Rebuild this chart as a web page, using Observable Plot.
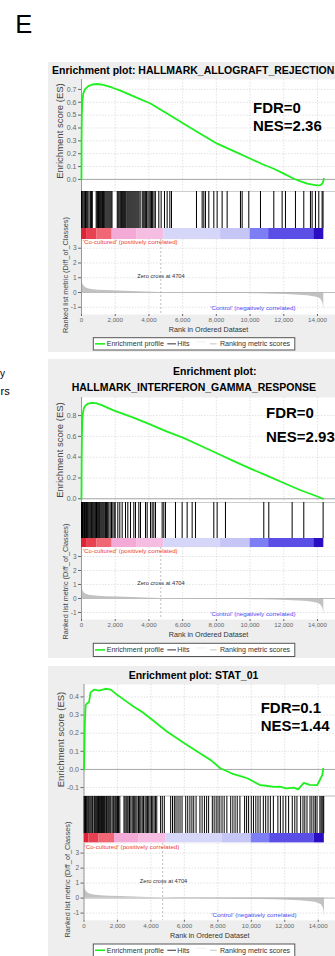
<!DOCTYPE html>
<html><head><meta charset="utf-8">
<script src="https://cdn.jsdelivr.net/npm/d3@7"></script>
<script src="https://cdn.jsdelivr.net/npm/@observablehq/plot@0.6"></script>
<style>
body{margin:0;background:#fff;}
#root{position:relative;width:335px;height:956px;overflow:hidden;font-family:"Liberation Sans",Arial,Helvetica,sans-serif;}
.panel{position:absolute;left:48px;width:287px;background:#eeeeee;}
#overlay{position:absolute;left:0;top:0;pointer-events:none;}
</style>
</head><body><div id="root"></div>
<script>
// ---------------- DATA ----------------
const xTicks = [0, 2000, 4000, 6000, 8000, 10000, 12000, 14000];
const rankTicks = [-1, 0, 1, 2, 3];
const esTicks1 = [0, 0.1, 0.2, 0.3, 0.4, 0.5, 0.6, 0.7];
const esTicks2 = [0, 0.2, 0.4, 0.6, 0.8];
const esTicks3 = [-0.1, 0, 0.1, 0.2, 0.3, 0.4];

const titles = ["Enrichment plot: HALLMARK_ALLOGRAFT_REJECTION", "Enrichment plot:", "HALLMARK_INTERFERON_GAMMA_RESPONSE", "Enrichment plot: STAT_01"];
const fdrText = ["FDR=0", "FDR=0", "FDR=0.1"];
const nesText = ["NES=2.36", "NES=2.93", "NES=1.44"];
const legendLabels = ["Enrichment profile", "Hits", "Ranking metric scores"];
const esAxisLabel = "Enrichment score (ES)";
const rankAxisLabel = "Ranked list metric (Diff_of_Classes)";
const xAxisLabel = "Rank in Ordered Dataset";
const posLabel = "'Co-cultured' (positively correlated)";
const negLabel = "'Control' (negatively correlated)";
const zeroCross = 4704;
const zeroLabel = "Zero cross at 4704";

// running enrichment scores
const es1Rank = [0, 5, 20, 50, 100, 200, 400, 650, 930, 1300, 1800, 2310, 3200, 4090, 5100, 6070, 7050, 8050, 9000, 10025, 10700, 11410, 12000, 12600, 13000, 13390, 13700, 13980, 14150, 14280, 14340, 14375];
const es1 = [0, 0.3, 0.5, 0.6, 0.665, 0.7, 0.725, 0.738, 0.742, 0.735, 0.715, 0.69, 0.64, 0.59, 0.51, 0.433, 0.355, 0.278, 0.222, 0.161, 0.12, 0.083, 0.045, 0.005, -0.015, -0.033, -0.04, -0.047, -0.045, -0.033, -0.015, 0.005];

const es2Rank = [0, 10, 25, 50, 90, 150, 250, 400, 600, 850, 1200, 1900, 3000, 4000, 5000, 6050, 7000, 8000, 9000, 10025, 11000, 12000, 13000, 14000, 14333];
const es2 = [0, 0.35, 0.6, 0.75, 0.83, 0.875, 0.9, 0.915, 0.922, 0.92, 0.9, 0.85, 0.785, 0.72, 0.65, 0.585, 0.515, 0.44, 0.365, 0.29, 0.222, 0.152, 0.082, 0.022, 0];

const es3Rank = [0, 20, 50, 100, 190, 300, 390, 600, 900, 1285, 1600, 2000, 2380, 3000, 3500, 4000, 4973, 6000, 7000, 7600, 8160, 8560, 8900, 9355, 9800, 10150, 10550, 10900, 11345, 11700, 12100, 12540, 12800, 13140, 13500, 13940, 14140, 14250, 14300];
const es3 = [0, 0.1, 0.256, 0.355, 0.365, 0.37, 0.425, 0.44, 0.435, 0.445, 0.44, 0.41, 0.385, 0.345, 0.315, 0.28, 0.208, 0.145, 0.085, 0.05, 0.005, -0.01, -0.025, -0.037, -0.05, -0.068, -0.087, -0.09, -0.096, -0.095, -0.105, -0.1, -0.11, -0.074, -0.085, -0.087, -0.05, -0.03, 0.005];

// hit positions (rank of gene-set members)
const hits1 = [0, 40, 90, 150, 200, 240, 280, 330, 380, 450, 540, 590, 640, 870, 920, 960, 1010, 1060, 1110, 1150, 1200, 1250, 1300, 1350, 1400, 1460, 1520, 1580, 1640, 1700, 1760, 1810,
  2120, 2170, 2220, 2280, 2330, 2380, 2440, 2500, 2560, 2620, 2690, 2750, 2810, 2870, 2930, 2990, 3050, 3110, 3170, 3230, 3290, 3350, 3410, 3480,
  3600, 3660, 3720, 3790, 3860, 3940, 4010, 4080, 4150, 4220, 4300, 4380,
  4587, 4725, 4923, 5081, 5240, 5338,
  6821, 7157, 7256, 7355, 7553, 7850, 8046, 8343, 8640, 9430, 9530, 9925, 10617, 11408, 11902, 12100, 12693, 13187, 13582, 13681, 13879, 14077, 14274, 14330];
const hits2 = [0, 30, 60, 100, 140, 180, 220, 260, 300, 350, 400, 450, 500, 550, 600, 640, 690, 740, 790, 840, 890, 940, 1000, 1060, 1110, 1170, 1230, 1290, 1350, 1420, 1480, 1550, 1620, 1700, 1780, 1860, 1940, 2000,
  2155, 2273, 2412, 2610, 2748, 2906, 3104, 3203, 3400, 3500, 3796, 3895, 4092, 4191, 4290, 4389, 4784, 4883, 4982, 5575, 5971, 6267, 6564, 6761, 7849, 8046, 8540, 10814, 11111, 12495, 13187, 14333];
const hits3 = [0, 40, 90, 140, 190, 250, 300, 360, 420, 480, 520, 600, 640, 700, 760, 800, 870, 920, 980, 1050, 1100, 1160, 1220, 1300, 1350, 1420, 1480, 1540, 1600, 1680, 1750, 1800, 1870, 1930, 2000, 2060, 2140,
  2390, 2450, 2520, 2580, 2640, 2720, 2800, 2880, 2950, 3030, 3100, 3170, 3260, 3330, 3400, 3480, 3560, 3650, 3720, 3800, 3870, 3950, 4030, 4110, 4190, 4270, 4350,
  4580, 4680, 4800, 5180, 5290, 5400, 5500, 5620, 5740, 5860, 6080, 6200, 6330, 6450, 6560, 6700, 6930, 7060, 7200, 7330, 7450,
  7670, 7780, 7900, 8010, 8120, 8250, 8380, 8540, 8770, 8900, 9030, 9160, 9320, 9600, 9720, 9840, 10000, 10130, 10270, 10400, 10530,
  10720, 10860, 11000, 11140, 11320, 11590, 11740, 11900, 12060, 12230, 12450, 12600, 12730, 12950, 13090, 13200, 13330,
  13510, 13620, 13740, 13830, 13930, 14100, 14170, 14230, 14290, 14330];

// ranked list metric (same ordered dataset for all three)
const metricRank = [0, 10, 30, 60, 100, 170, 280, 450, 700, 1000, 1500, 2200, 3000, 3800, 4704, 5600, 6600, 7600, 8600, 9600, 10600, 11400, 12200, 12900, 13400, 13800, 14050, 14200, 14300, 14350, 14375];
const metric = [1.42, 1.2, 0.9, 0.68, 0.52, 0.4, 0.31, 0.24, 0.19, 0.16, 0.13, 0.1, 0.07, 0.035, 0, -0.02, -0.035, -0.05, -0.06, -0.075, -0.09, -0.11, -0.14, -0.18, -0.22, -0.28, -0.36, -0.46, -0.65, -0.9, -1.25];

// colour bar of the ranked list
const cbStart = [0, 300, 900, 1820, 3300, 4880, 8250, 10000, 11100, 13780];
const cbEnd = [300, 900, 1820, 3300, 4880, 8250, 10000, 11100, 13780, 14375];
const cbColor = ["#dc2434", "#e84252", "#f06876", "#f4aad6", "#f6bde2", "#d6d6f8", "#c6c6f6", "#7e7ef4", "#5a4ee6", "#2a0ec2"];

// ---------------- LAYOUT ----------------
const FONT = '"Liberation Sans", Arial, Helvetica, sans-serif';
const W = 335;
const layout = [
  {bgTop: 62, bgBottom: 352, x0: 81, xMax: 15068,
   esTop: 79, esBottom: 191, esDomain: [-0.094, 0.777], esTicks: esTicks1, esRank: es1Rank, es: es1, hits: hits1,
   hitsBottom: 228, cbBottom: 239, rBottom: 314, rDomain: [-1.49, 3.59],
   esLabelX: 60, esLabelY: 131, rLabelX: 65.5, rLabelY: 275,
   co: [1.3, 2.8], zero: [55.7, 36.7], neg: [214, 68.7],
   legendTop: 337.7, legendH: 12.3},
  {bgTop: 359, bgBottom: 658, x0: 81, xMax: 15068,
   esTop: 397, esBottom: 502, esDomain: [-0.036, 0.974], esTicks: esTicks2, esRank: es2Rank, es: es2, hits: hits2,
   hitsBottom: 538, cbBottom: 547, rBottom: 619, rDomain: [-1.5, 3.64],
   esLabelX: 60, esLabelY: 450, rLabelX: 65.5, rLabelY: 581.5,
   co: [1.3, 4], zero: [55.7, 35.7], neg: [214, 66.7],
   legendTop: 643.3, legendH: 13.2},
  {bgTop: 666, bgBottom: 960, x0: 83.5, xMax: 15033,
   esTop: 684.3, esBottom: 796, esDomain: [-0.1475, 0.4685], esTicks: esTicks3, esRank: es3Rank, es: es3, hits: hits3,
   hitsBottom: 833.3, cbBottom: 842.7, rBottom: 919.5, rDomain: [-1.48, 3.64],
   esLabelX: 61, esLabelY: 739.5, rLabelX: 67.5, rLabelY: 879.5,
   co: [0.5, 3.3], zero: [55.8, 38], neg: [212.5, 71.3],
   legendTop: 944, legendH: 12.5}
];

const root = document.getElementById("root");
function place(el, top) {
  el.style.position = "absolute";
  el.style.left = "0px";
  el.style.top = top + "px";
  root.appendChild(el);
}
const baseStyle = {overflow: "visible", background: "transparent", fontFamily: FONT};
const grid = {stroke: "#cfcfcf", strokeOpacity: 1, strokeDasharray: "1.5,1.5", strokeWidth: 0.6};

const cbData = cbStart.map((s, i) => ({start: s, end: cbEnd[i], color: cbColor[i]}));
const metricData = metricRank.map((r, i) => ({rank: r, metric: metric[i]}));

layout.forEach((L) => {
  const bg = document.createElement("div");
  bg.className = "panel";
  bg.style.top = L.bgTop + "px";
  bg.style.height = (L.bgBottom - L.bgTop) + "px";
  root.appendChild(bg);
});

layout.forEach((L) => {
  const esData = L.esRank.map((r, i) => ({rank: r, es: L.es[i]}));
  const common = {width: W, marginLeft: L.x0, marginRight: 0, marginTop: 0, style: baseStyle};
  // Enrichment score plot
  const es = Plot.plot({
    ...common, height: L.esBottom - L.esTop, marginBottom: 0,
    x: {domain: [0, L.xMax], axis: null},
    y: {domain: L.esDomain},
    marks: [
      Plot.frame({fill: "white"}),
      Plot.gridX(xTicks, grid),
      Plot.gridY(L.esTicks, grid),
      Plot.ruleY([0], {stroke: "#a8a8a8", strokeWidth: 1}),
      Plot.ruleY([L.esDomain[0]], {stroke: "#9a9a9a", strokeWidth: 1}),
      Plot.ruleX([0], {stroke: "#9a9a9a", strokeWidth: 1}),
      Plot.axisY(L.esTicks, {tickSize: 3, tickPadding: 2, fontSize: 7, color: "#666", tickFormat: d => d.toFixed(1), label: null}),
      Plot.line(esData, {x: "rank", y: "es", stroke: "#1ef01e", strokeWidth: 1.8})
    ]
  });
  place(es, L.esTop);
  // Hits
  const hits = Plot.plot({
    ...common, height: L.hitsBottom - L.esBottom, marginBottom: 0,
    x: {domain: [0, L.xMax], axis: null},
    marks: [
      Plot.frame({fill: "white"}),
      Plot.ruleX(L.hits, {stroke: "#000", strokeWidth: 1})
    ]
  });
  place(hits, L.esBottom);
  // Colour bar
  const cb = Plot.plot({
    ...common, height: L.cbBottom - L.hitsBottom, marginBottom: 0,
    x: {domain: [0, L.xMax], axis: null},
    color: {type: "identity"},
    marks: [
      Plot.frame({fill: "white"}),
      Plot.rect(cbData, {x1: "start", x2: "end", fill: "color"})
    ]
  });
  place(cb, L.hitsBottom);
  // Ranked list metric
  const mb = 24;
  const rk = Plot.plot({
    ...common, height: L.rBottom - L.cbBottom + mb, marginBottom: mb,
    x: {domain: [0, L.xMax]},
    y: {domain: L.rDomain},
    marks: [
      Plot.frame({fill: "white"}),
      Plot.gridX(xTicks, grid),
      Plot.gridY(rankTicks, grid),
      Plot.areaY(metricData, {x: "rank", y: "metric", fill: "#c2c2c2"}),
      Plot.ruleY([0], {stroke: "#b0b0b0", strokeWidth: 0.8}),
      Plot.ruleX([zeroCross], {stroke: "#a0a0a0", strokeWidth: 0.7, strokeDasharray: "2,2"}),
      Plot.ruleX([0], {stroke: "#9a9a9a", strokeWidth: 1}),
      Plot.axisY(rankTicks, {tickSize: 3, tickPadding: 2, fontSize: 6.5, color: "#666", tickFormat: d => String(d), label: null}),
      Plot.axisX(xTicks, {tickSize: 2, tickPadding: 1, fontSize: 6.2, color: "#666", tickFormat: d3.format(","), label: null}),
      Plot.text([xAxisLabel], {text: d => d, frameAnchor: "bottom", dy: 15, fontSize: 7.2, fill: "#333", lineAnchor: "middle"}),
      Plot.text([posLabel], {text: d => d, frameAnchor: "top-left", dx: L.co[0], dy: L.co[1], textAnchor: "start", lineAnchor: "middle", fontSize: 6.2, fill: "#f03a3a"}),
      Plot.text([zeroLabel], {text: d => d, frameAnchor: "top-left", dx: L.zero[0], dy: L.zero[1], textAnchor: "start", lineAnchor: "middle", fontSize: 5.7, fill: "#333"}),
      Plot.text([negLabel], {text: d => d, frameAnchor: "top-left", dx: L.neg[0], dy: L.neg[1], textAnchor: "end", lineAnchor: "middle", fontSize: 6.2, fill: "#4848f4"})
    ]
  });
  place(rk, L.cbBottom);
});

// ---------------- TEXT OVERLAY (titles, stats, axis titles, legends) ----------------
const svg = d3.select(root).append("svg").attr("id", "overlay").attr("width", W).attr("height", 956)
  .style("font-family", FONT);
svg.append("text").attr("x", 15.3).attr("y", 33.3).attr("font-size", 25.5).text("E");
svg.append("text").attr("x", 0).attr("y", 376.5).attr("font-size", 10).text("y");
svg.append("text").attr("x", 0.5).attr("y", 395).attr("font-size", 11).text("rs");

layout.forEach((L) => {
  svg.append("text").attr("transform", `translate(${L.esLabelX},${L.esLabelY}) rotate(-90)`)
    .attr("text-anchor", "middle").attr("dy", "0.35em").attr("font-size", 9.5).attr("fill", "#444").text(esAxisLabel);
  svg.append("text").attr("transform", `translate(${L.rLabelX},${L.rLabelY}) rotate(-90)`)
    .attr("text-anchor", "middle").attr("dy", "0.35em").attr("font-size", 7.3).attr("fill", "#444").text(rankAxisLabel);
});

const titlePos = [
  {x: 52, y: 74, anchor: "start"},
  {x: 214.7, y: 375, anchor: "middle"},
  {x: 71.7, y: 390.5, anchor: "start"},
  {x: 193.5, y: 678.5, anchor: "middle"}
];
titles.forEach((t, i) => {
  svg.append("text").attr("x", titlePos[i].x).attr("y", titlePos[i].y).attr("text-anchor", titlePos[i].anchor)
    .attr("font-size", 10.5).attr("font-weight", "bold").text(t);
});
const statPos = [{x: 253, y1: 113.3, y2: 131}, {x: 266, y1: 418.3, y2: 441.7}, {x: 260.7, y1: 713, y2: 731}];
statPos.forEach((p, i) => {
  svg.append("text").attr("x", p.x).attr("y", p.y1).attr("font-size", 15).attr("font-weight", "bold").text(fdrText[i]);
  svg.append("text").attr("x", p.x).attr("y", p.y2).attr("font-size", 15).attr("font-weight", "bold").text(nesText[i]);
});
layout.forEach((L) => {
  const g = svg.append("g").attr("transform", `translate(93.3,${L.legendTop})`);
  const h = L.legendH, cy = h / 2;
  g.append("rect").attr("width", 201.5).attr("height", h).attr("fill", "white").attr("stroke", "#555").attr("stroke-width", 1);
  g.append("line").attr("x1", 1.7).attr("x2", 11.7).attr("y1", cy).attr("y2", cy).attr("stroke", "#1ef01e").attr("stroke-width", 1.6);
  g.append("text").attr("x", 13.4).attr("y", cy).attr("dy", "0.35em").attr("font-size", 7.1).attr("fill", "#333").text(legendLabels[0]);
  g.append("line").attr("x1", 74).attr("x2", 82.7).attr("y1", cy).attr("y2", cy).attr("stroke", "#333").attr("stroke-width", 1);
  g.append("text").attr("x", 84).attr("y", cy).attr("dy", "0.35em").attr("font-size", 7.1).attr("fill", "#333").text(legendLabels[1]);
  g.append("line").attr("x1", 103).attr("x2", 113).attr("y1", cy - 2).attr("y2", cy - 2).attr("stroke", "#eeeeee").attr("stroke-width", 1);
  g.append("line").attr("x1", 116.7).attr("x2", 123.4).attr("y1", cy).attr("y2", cy).attr("stroke", "#c4c4c4").attr("stroke-width", 1);
  g.append("text").attr("x", 126.7).attr("y", cy).attr("dy", "0.35em").attr("font-size", 7.1).attr("fill", "#333").text(legendLabels[2]);
});
</script>
</body></html>
